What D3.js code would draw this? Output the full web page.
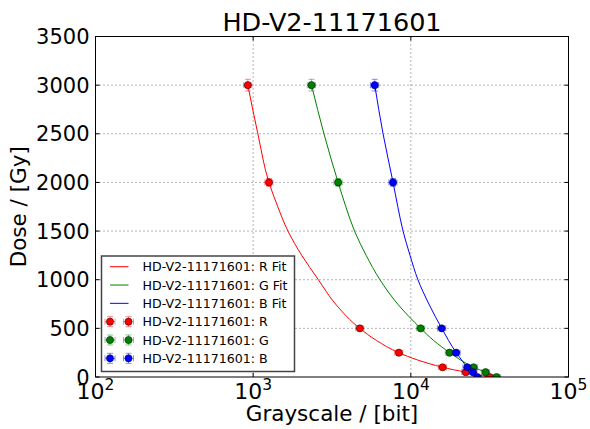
<!DOCTYPE html>
<html>
<head>
<meta charset="utf-8">
<script src="https://cdn.jsdelivr.net/npm/d3@7"></script>
<style>
  body { margin: 0; background: #fff; }
  text { font-family: "DejaVu Sans", sans-serif; }
</style>
</head>
<body>
<svg id="chart"></svg>
<script>
// measured doses (Gy) and grayscale readings per channel
const doses = [0, 50, 100, 250, 500, 2000, 3000];
const doseErr = [0, 1, 2, 5, 10, 40, 60];
const redX = [31600, 22300, 15900, 8400, 4750, 1260, 925];
const greenX = [35000, 29800, 25000, 17600, 11550, 3460, 2345];
const blueX = [26400, 24800, 22800, 19400, 15700, 7710, 5900];
const redXErr = [1900, 1300, 950, 500, 280, 75, 55];
const greenXErr = [2100, 1800, 1500, 1050, 700, 210, 140];
const blueXErr = [1600, 1500, 1400, 1150, 950, 460, 350];

// fit curves
const fitDoses = [3000, 2500, 2000, 1750, 1500, 1250, 1000, 750, 500, 375, 250, 175, 100, 75, 50, 25, 0];
const redFitX = [925, 1071, 1259, 1433, 1662, 2034, 2591, 3330, 4746, 6064, 8381, 11030, 15930, 18600, 22280, 26030, 31620];
const greenFitX = [2345, 2812, 3459, 3870, 4395, 5208, 6368, 8253, 11550, 13960, 17640, 20670, 25030, 27230, 29830, 32190, 35030];
const blueFitX = [5904, 6665, 7714, 8269, 8925, 9886, 11090, 13020, 15700, 17360, 19400, 20990, 22840, 23770, 24790, 25570, 26420];

const xTicks = [100, 1000, 10000, 100000];
const yTicks = [0, 500, 1000, 1500, 2000, 2500, 3000, 3500];
const titleText = "HD-V2-11171601";

const series = [
    {name: "R", color: "#ff0000", x: redX, xe: redXErr, fit: redFitX},
    {name: "G", color: "#008000", x: greenX, xe: greenXErr, fit: greenFitX},
    {name: "B", color: "#0000ff", x: blueX, xe: blueXErr, fit: blueFitX}
];

const W = 590, H = 429;
const plot = {left: 95.5, right: 568.5, top: 36.5, bottom: 377};

const svg = d3.select("#chart").attr("width", W).attr("height", H);

const xScale = d3.scaleLog().domain([1e2, 1e5]).range([plot.left, plot.right]);
const yScale = d3.scaleLinear().domain([0, 3500]).range([plot.bottom, plot.top]);

svg.append("clipPath").attr("id", "clip")
    .append("rect")
    .attr("x", plot.left).attr("y", plot.top)
    .attr("width", plot.right - plot.left).attr("height", plot.bottom - plot.top);

//grid
const grid = svg.append("g");
grid.selectAll("line.gx")
    .data(xTicks.slice(1, -1))
    .join("line")
    .attr("x1", d => xScale(d)).attr("x2", d => xScale(d))
    .attr("y1", plot.top).attr("y2", plot.bottom)
    .attr("stroke", "#000").attr("stroke-width", 0.6)
    .attr("stroke-dasharray", "1,3");
grid.selectAll("line.gy")
    .data(yTicks.slice(1, -1))
    .join("line")
    .attr("x1", plot.left).attr("x2", plot.right)
    .attr("y1", d => yScale(d)).attr("y2", d => yScale(d))
    .attr("stroke", "#000").attr("stroke-width", 0.6)
    .attr("stroke-dasharray", "1,3");

const data = svg.append("g").attr("clip-path", "url(#clip)");

// fit lines, monotone along the dose axis
const line = d3.line()
    .x(d => xScale(d[0]))
    .y(d => yScale(d[1]))
    .curve(d3.curveMonotoneY);

series.forEach(s => {
    data.append("path")
        .datum(s.fit.map((v, i) => [v, fitDoses[i]]))
        .attr("fill", "none")
        .attr("stroke", s.color)
        .attr("stroke-width", 1)
        .attr("d", line);
});

// error bars + markers
function drawPoint(g, cx, cy, x0, x1, y0, y1, color) {
    const e = g.append("g").attr("stroke", color).attr("stroke-opacity", 0.45).attr("stroke-width", 1);
    e.append("line").attr("x1", x0).attr("x2", x1).attr("y1", cy).attr("y2", cy);
    e.append("line").attr("x1", cx).attr("x2", cx).attr("y1", y0).attr("y2", y1);
    e.append("line").attr("x1", x0).attr("x2", x0).attr("y1", cy - 3).attr("y2", cy + 3);
    e.append("line").attr("x1", x1).attr("x2", x1).attr("y1", cy - 3).attr("y2", cy + 3);
    e.append("line").attr("x1", cx - 3).attr("x2", cx + 3).attr("y1", y0).attr("y2", y0);
    e.append("line").attr("x1", cx - 3).attr("x2", cx + 3).attr("y1", y1).attr("y2", y1);
    g.append("circle").attr("cx", cx).attr("cy", cy).attr("r", 3.6)
        .attr("fill", color).attr("stroke", "#000").attr("stroke-width", 0.5);
}

series.forEach(s => {
    s.x.forEach((v, i) => {
        const d = doses[i];
        drawPoint(data, xScale(v), yScale(d),
            xScale(v - s.xe[i]), xScale(v + s.xe[i]),
            yScale(d - doseErr[i]), yScale(d + doseErr[i]), s.color);
    });
});

// frame
svg.append("rect")
    .attr("x", plot.left).attr("y", plot.top)
    .attr("width", plot.right - plot.left).attr("height", plot.bottom - plot.top)
    .attr("fill", "none").attr("stroke", "#000").attr("stroke-width", 1);

// ticks (inside, all four sides)
const ticks = svg.append("g").attr("stroke", "#000").attr("stroke-width", 1);
xTicks.forEach(t => {
    const x = xScale(t);
    ticks.append("line").attr("x1", x).attr("x2", x).attr("y1", plot.bottom).attr("y2", plot.bottom - 4);
    ticks.append("line").attr("x1", x).attr("x2", x).attr("y1", plot.top).attr("y2", plot.top + 4);
});
yTicks.forEach(t => {
    const y = yScale(t);
    ticks.append("line").attr("x1", plot.left).attr("x2", plot.left + 4).attr("y1", y).attr("y2", y);
    ticks.append("line").attr("x1", plot.right).attr("x2", plot.right - 4).attr("y1", y).attr("y2", y);
});

// tick labels
svg.selectAll("text.ylab")
    .data(yTicks)
    .join("text")
    .attr("x", plot.left - 6)
    .attr("y", d => yScale(d))
    .attr("dy", "0.36em")
    .attr("text-anchor", "end")
    .attr("font-size", 21)
    .text(d => d);

xTicks.forEach(t => {
    const txt = svg.append("text")
        .attr("x", xScale(t))
        .attr("y", 399)
        .attr("text-anchor", "middle")
        .attr("font-size", 22);
    txt.append("tspan").text("10");
    txt.append("tspan").attr("dy", -9).attr("font-size", 15.5).text(Math.round(Math.log10(t)));
});

// axis labels and title
svg.append("text")
    .attr("x", (plot.left + plot.right) / 2)
    .attr("y", 421)
    .attr("text-anchor", "middle")
    .attr("font-size", 21.5)
    .text("Grayscale / [bit]");

svg.append("text")
    .attr("transform", "translate(26," + ((plot.top + plot.bottom) / 2) + ") rotate(-90)")
    .attr("text-anchor", "middle")
    .attr("font-size", 21.5)
    .text("Dose / [Gy]");

svg.append("text")
    .attr("x", (plot.left + plot.right) / 2)
    .attr("y", 31)
    .attr("text-anchor", "middle")
    .attr("font-size", 25.5)
    .text(titleText);

// legend
const legend = svg.append("g");
legend.append("rect")
    .attr("x", 101.5).attr("y", 256)
    .attr("width", 193).attr("height", 115.5)
    .attr("fill", "#fff").attr("stroke", "#444").attr("stroke-width", 1.5);

const rowY = d3.scaleLinear().domain([0, 5]).range([266.7, 358.3]);
series.forEach((s, i) => {
    const y = rowY(i);
    legend.append("line")
        .attr("x1", 110).attr("x2", 128.5).attr("y1", y).attr("y2", y)
        .attr("stroke", s.color).attr("stroke-width", 1);
    legend.append("text")
        .attr("x", 142.5).attr("y", y).attr("dy", "0.36em")
        .attr("font-size", 12.6)
        .text(titleText + ": " + s.name + " Fit");
});
series.forEach((s, i) => {
    const y = rowY(i + 3);
    [110, 128.5].forEach(cx => {
        drawPoint(legend, cx, y, cx - 5, cx + 5, y - 5, y + 5, s.color);
    });
    legend.append("text")
        .attr("x", 142.5).attr("y", y).attr("dy", "0.36em")
        .attr("font-size", 12.6)
        .text(titleText + ": " + s.name);
});
</script>
</body>
</html>
